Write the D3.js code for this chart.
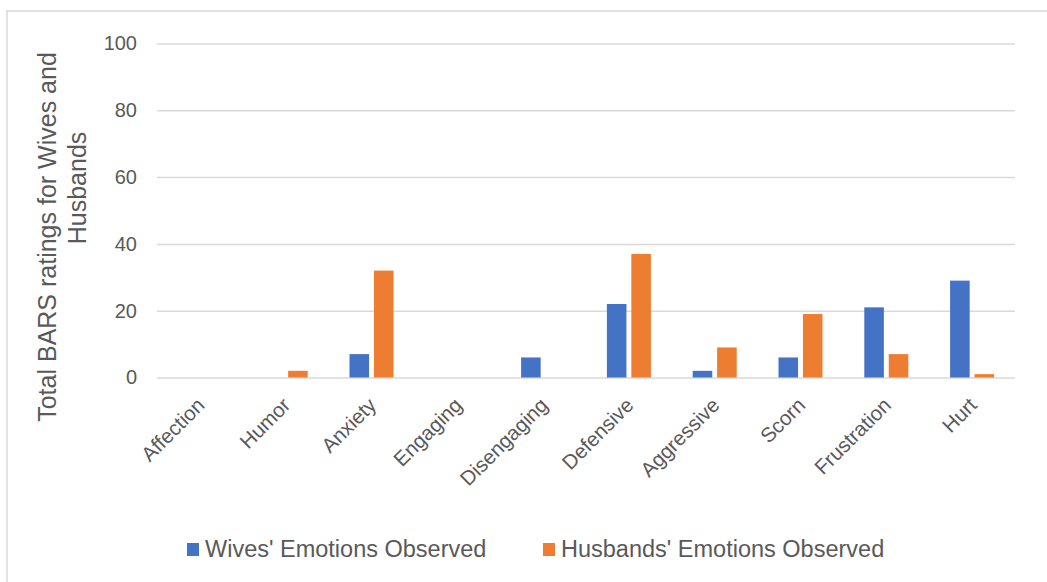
<!DOCTYPE html>
<html>

<head>
    <meta charset="utf-8">
    <script type="text/javascript" src="https://cdn.jsdelivr.net/npm/d3@7"></script>
    <style>
        body { margin: 0; background: #fff; }
        text { font-family: "Liberation Sans", Arial, sans-serif; fill: #595959; }
    </style>
</head>

<body>
    <div id="viz"></div>

    <script type="text/javascript">

        // chart data
        var categories = ["Affection", "Humor", "Anxiety", "Engaging", "Disengaging",
                          "Defensive", "Aggressive", "Scorn", "Frustration", "Hurt"];
        var wives    = [0, 0, 7, 0, 6, 22, 2, 6, 21, 29];
        var husbands = [0, 2, 32, 0, 0, 37, 9, 19, 7, 1];
        var seriesNames  = ["Wives' Emotions Observed", "Husbands' Emotions Observed"];
        var seriesColors = ["#4472c4", "#ed7d31"];
        var yTicks = [0, 20, 40, 60, 80, 100];

        var chartW = 1047, chartH = 582;
        var plotL = 157, plotR = 1015, plotT = 43.5, plotB = 377.5;

        var svg = d3.select("#viz")
            .append("svg")
            .attr("width", chartW)
            .attr("height", chartH);

        // outer chart border
        svg.append("rect")
            .attr("x", 7).attr("y", 11)
            .attr("width", 1060).attr("height", 600)
            .attr("fill", "none")
            .attr("stroke", "#d9d9d9")
            .attr("stroke-width", 1.5);

        var x0 = d3.scaleBand()
            .domain(categories)
            .range([plotL, plotR])
            .paddingInner(0.487)
            .paddingOuter(0.2435);

        var x1 = d3.scaleBand()
            .domain(seriesNames)
            .range([0, x0.bandwidth()])
            .paddingInner(0.2);

        var y = d3.scaleLinear()
            .domain([0, 100])
            .range([plotB, plotT]);

        // gridlines + tick labels
        var yAxis = d3.axisLeft(y)
            .tickValues(yTicks)
            .tickSize(-(plotR - plotL))
            .tickPadding(20);

        var gy = svg.append("g")
            .attr("transform", "translate(" + plotL + ",0)")
            .call(yAxis);
        gy.select(".domain").remove();
        gy.selectAll("line")
            .attr("stroke", "#d9d9d9")
            .attr("stroke-width", 1.5);
        gy.selectAll("text")
            .style("font-size", "20px")
            .style("fill", "#595959")
            .style("font-family", "'Liberation Sans', Arial, sans-serif");

        // bars
        var rows = categories.map(function (c, i) {
            return { cat: c, vals: [wives[i], husbands[i]] };
        });

        var groups = svg.append("g").selectAll("g")
            .data(rows)
            .join("g")
            .attr("transform", function (d) { return "translate(" + x0(d.cat) + ",0)"; });

        groups.selectAll("rect")
            .data(function (d) {
                return d.vals.map(function (v, k) { return { name: seriesNames[k], v: v, k: k }; });
            })
            .join("rect")
            .attr("x", function (d) { return x1(d.name); })
            .attr("width", x1.bandwidth())
            .attr("y", function (d) { return y(d.v); })
            .attr("height", function (d) { return y(0) - y(d.v); })
            .attr("fill", function (d) { return seriesColors[d.k]; });

        // category labels
        var xAxis = d3.axisBottom(x0).tickSize(0).tickPadding(0);
        var gx = svg.append("g")
            .attr("transform", "translate(0," + plotB + ")")
            .call(xAxis);
        gx.select(".domain").remove();
        gx.selectAll("text")
            .style("font-size", "20.5px")
            .style("fill", "#595959")
            .style("font-family", "'Liberation Sans', Arial, sans-serif")
            .attr("text-anchor", "end")
            .attr("y", 0).attr("dy", 0)
            .attr("transform", "translate(6,29) rotate(-45)");

        // y axis title
        var title = svg.append("g").attr("transform", "rotate(-90)")
            .style("font-size", "25px")
            .attr("text-anchor", "middle");
        title.append("text").attr("x", -237).attr("y", 56).text("Total BARS ratings for Wives and");
        title.append("text").attr("x", -188).attr("y", 86).text("Husbands");

        // legend
        var legendX = [187, 543];
        var legend = svg.append("g").selectAll("g")
            .data(seriesNames)
            .join("g")
            .attr("transform", function (d, i) { return "translate(" + legendX[i] + ",543)"; });
        legend.append("rect")
            .attr("width", 12).attr("height", 13)
            .attr("fill", function (d, i) { return seriesColors[i]; });
        legend.append("text")
            .attr("x", 18).attr("y", 13.5)
            .style("font-size", "23.5px")
            .text(function (d) { return d; });

    </script>

</body>
</html>
